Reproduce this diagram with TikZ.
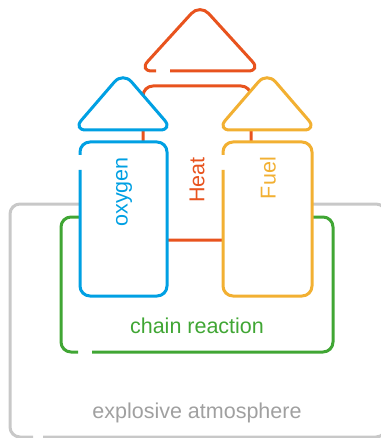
\documentclass[tikz,border=0pt]{standalone}
\usepackage{fontspec}
\setmainfont{Liberation Sans}
\usetikzlibrary{positioning}
\definecolor{oxyblue}{RGB}{0,160,227}
\definecolor{heatorange}{RGB}{232,83,30}
\definecolor{fuelyellow}{RGB}{242,176,50}
\definecolor{chaingreen}{RGB}{64,166,52}
\definecolor{atmgray}{RGB}{200,200,200}
\definecolor{atmtext}{RGB}{160,160,160}
\tikzset{
  outline/.style={line width=3pt, rounded corners=10pt},
  arrowhead/.style={line width=3pt, rounded corners=13pt, fill=white},
  oxyline/.style={draw=oxyblue},
  heatline/.style={draw=heatorange},
  fuelline/.style={draw=fuelyellow},
  chainline/.style={draw=chaingreen},
  atmline/.style={draw=atmgray},
  lbl/.style={font=\fontsize{21.5}{26}\selectfont, inner sep=0pt},
  uplbl/.style={lbl, rotate=90, anchor=east},
}

\begin{document}
\begin{tikzpicture}[x=1pt, y=-1pt]
  \useasboundingbox (0,0) rectangle (380,438);

  % explosive atmosphere and chain reaction frames
  \draw[outline, atmline] (43,437) -- (386,437) -- (386,204) -- (10,204) -- (10,437) -- (33,437);
  \draw[outline, chainline] (92,352) -- (333,352) -- (333,217) -- (61,217) -- (61,352) -- (78,352);

  % heat
  \draw[arrowhead, heatline, fill=none] (170,71) -- (261,71) -- (200,4) -- (139,71) -- (156,71);
  \draw[outline, heatline, fill=white] (143,86) rectangle (251,240);

  % oxygen
  \draw[arrowhead, oxyline] (73,130) -- (173,130) -- (123,72) -- cycle;
  \fill[white, rounded corners=10pt] (80,142) rectangle (167,296);
  \draw[outline, oxyline] (80,170) -- (80,296) -- (167,296) -- (167,142) -- (80,142) -- (80,155);

  % fuel
  \draw[arrowhead, fuelline] (217,130) -- (317,130) -- (267,72) -- cycle;
  \fill[white, rounded corners=10pt] (223,142) rectangle (312,296);
  \draw[outline, fuelline] (223,170) -- (223,296) -- (312,296) -- (312,142) -- (223,142) -- (223,155);

  \node[uplbl, text=oxyblue] (oxygen) at (124,157) {oxygen};
  \node[uplbl, text=heatorange] (heat) at (197,157) {Heat};
  \node[uplbl, text=fuelyellow] (fuel) at (268,157) {Fuel};
  \node[lbl, text=chaingreen] (chain) at (197,326) {chain reaction};
  \node[lbl, text=atmtext] (atmosphere) at (197,413) {explosive atmosphere};
\end{tikzpicture}
\end{document}
